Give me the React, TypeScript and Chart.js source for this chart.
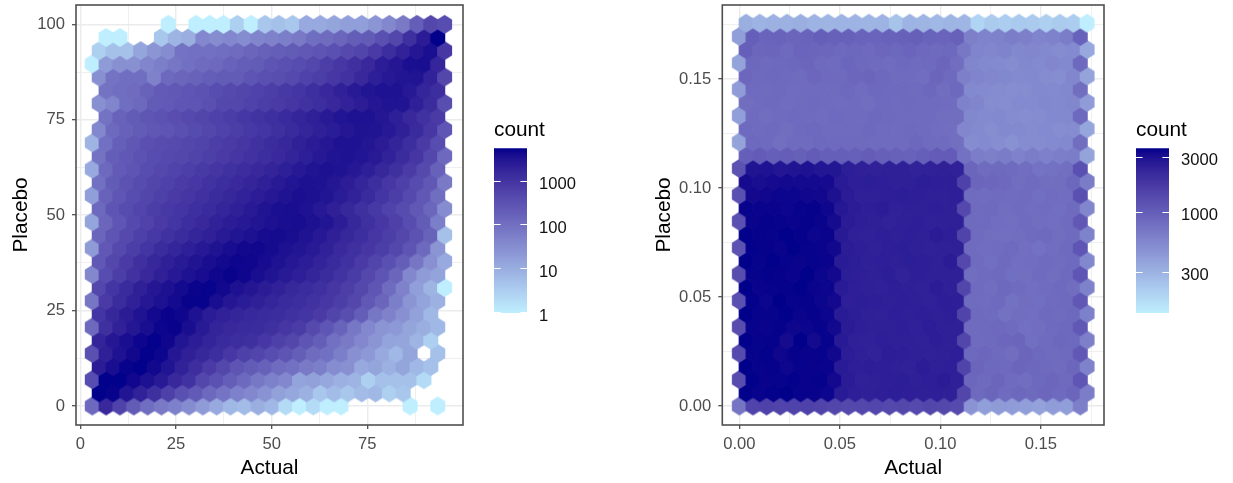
import React, { useEffect, useRef } from "react";
import { Chart, registerables } from "chart.js";
Chart.register(...registerables);

const FONT = "'Liberation Sans', Arial, sans-serif";

// ---- left panel: counts per hexagon row, bottom row first, 0 = empty hexagon
const L00 = [130,1600,600,220,110,70,55,35,20,12,7,6,10,7,2,1,2,1,1,0,0,0,0,1,0,1];
const L01 = [5600,5300,3200,2000,1200,650,350,230,130,85,55,40,28,16,13,9,4,6,4,6,7,3,4,0,0,0];
const L02 = [400,5600,5600,4700,3700,2700,1600,1100,500,330,200,130,75,55,40,15,16,13,9,8,3,5,5,5,2,0];
const L03 = [2500,4000,5300,5600,4600,3300,2000,1300,800,500,300,220,180,120,100,70,60,35,30,12,14,9,14,7,5,0];
const L04 = [350,2200,3500,4600,5500,5000,3000,2200,1700,1300,900,650,550,400,300,200,120,100,60,30,22,12,7,14,0,5];
const L05 = [1900,3000,4000,4900,5500,4800,3200,2400,1900,1500,1300,1200,900,650,500,300,200,100,70,40,25,15,14,8,3,0];
const L06 = [130,1200,2100,3000,4000,5000,5200,4000,2700,1900,1600,1500,1400,1200,950,750,450,280,160,75,40,25,22,14,10,7];
const L07 = [1000,1700,2500,3400,4500,5200,4800,3500,2600,2100,1800,1650,1500,1350,1150,1000,800,550,380,200,80,50,30,16,7,0];
const L08 = [80,800,1400,2100,2900,3600,4400,5200,5300,4000,3000,2600,2200,1800,1500,1300,1100,900,700,500,250,150,60,25,15,9];
const L09 = [500,1000,1500,2200,3000,3700,4400,5100,5300,4600,3600,3100,2500,2100,1700,1450,1200,950,700,480,280,120,50,18,8,1];
const L10 = [40,400,700,1100,1600,2200,2800,3500,4100,4800,5200,4800,4000,3300,2700,2250,1850,1400,1050,750,480,300,150,40,20,15];
const L11 = [250,500,800,1200,1700,2200,2700,3300,3900,4500,4900,4800,4200,3500,2900,2450,1950,1500,1150,800,550,350,200,80,30,12];
const L12 = [20,250,450,700,1000,1400,1800,2300,2800,3400,4100,4600,4700,4300,3700,3200,2700,2100,1550,1200,950,700,500,300,130,25];
const L13 = [150,300,450,650,850,1100,1400,1800,2200,2700,3200,3700,4200,4300,4000,3400,2800,2200,1700,1300,950,700,500,320,170,5];
const L14 = [14,150,280,450,600,800,1000,1300,1600,2000,2400,2800,3200,3700,4000,4100,3700,3200,2400,1700,1200,900,650,400,220,60];
const L15 = [130,300,420,550,700,850,1000,1250,1500,1800,2200,2700,3300,3800,4000,3500,2800,2200,1700,1200,850,600,420,250,140,35];
const L16 = [18,170,280,400,520,650,800,950,1150,1400,1700,2000,2400,2900,3400,3800,3700,3200,2600,2000,1500,1000,700,450,250,110];
const L17 = [100,220,320,420,520,620,750,900,1100,1300,1550,1850,2200,2700,3200,3600,3500,3000,2400,1800,1300,900,650,420,250,70];
const L18 = [12,130,230,300,400,480,570,680,820,980,1150,1350,1600,1900,2300,2800,3300,3600,3400,2900,2300,1700,1200,800,450,180];
const L19 = [90,200,250,320,400,450,500,580,680,800,950,1100,1300,1550,1900,2300,2800,3300,3500,3200,2700,2000,1400,950,500,130];
const L20 = [8,100,190,260,340,390,430,500,580,700,800,950,1150,1400,1700,2100,2500,3000,3500,3500,3100,2500,1900,1300,800,400];
const L21 = [40,130,180,220,260,300,350,420,500,600,700,850,1000,1200,1500,1800,2200,2600,3000,3400,3300,2800,2200,1500,900,280];
const L22 = [0,90,170,220,270,320,370,450,520,620,720,880,1050,1250,1500,1800,2200,2700,3200,3500,3500,3000,2300,1600,1100,800];
const L23 = [30,45,110,130,220,240,280,300,350,480,500,600,700,800,950,1100,1300,1600,2000,2400,3000,3300,3300,2200,1400,380];
const L24 = [0,90,110,120,170,230,250,280,320,400,450,520,600,700,850,1000,1250,1600,2100,2700,3200,3500,3500,2800,1800,1300];
const L25 = [30,90,110,110,50,130,150,170,200,220,220,300,350,380,450,600,700,900,1100,1600,2300,2800,3200,3300,2000,500];
const L26 = [1,20,30,30,45,60,80,100,120,130,170,200,220,300,350,400,500,700,900,1200,1600,2400,3000,3800,4000,1800];
const L27 = [3,5,5,14,25,35,90,100,100,110,120,150,180,200,220,250,300,350,450,550,800,1300,2000,3000,3800,900];
const L28 = [0,1,1,0,0,4,8,10,40,35,40,35,45,50,60,70,110,120,150,200,220,350,500,1200,2500,5600];
const L29 = [0,0,0,0,0,1,0,1,1,1,3,1,4,5,4,12,12,14,18,18,25,40,70,200,500,400];
const leftRows = [L00,L01,L02,L03,L04,L05,L06,L07,L08,L09,L10,L11,L12,L13,L14,L15,L16,L17,L18,L19,L20,L21,L22,L23,L24,L25,L26,L27,L28,L29];

// ---- right panel
const R00 = [720,1500,1550,1500,1520,1560,1500,1450,1400,1420,1440,1400,1420,1380,1450,1430,1350,460,400,420,410,400,380,410,400,620];
const R01 = [3600,3520,3580,3620,3520,3500,3450,2700,2550,2500,2550,2600,2550,2500,2550,2520,1450,850,900,820,870,850,880,840,900,640];
const R02 = [1300,3600,3500,3520,3580,3500,3560,3300,2650,2480,2520,2550,2600,2520,2550,2650,2500,880,850,900,820,800,860,880,850,1150];
const R03 = [3620,3520,3550,3420,3520,3500,3480,2700,2550,2580,2550,2500,2480,2620,2500,2550,1500,900,860,840,900,870,850,830,880,600];
const R04 = [1350,3520,3580,3400,3550,3500,3520,3350,2620,2500,2450,2580,2550,2520,2480,2520,2550,860,880,850,800,900,860,820,850,1100];
const R05 = [3600,3520,3550,3250,3640,3280,3520,2750,2500,2480,2550,2520,2500,2480,2580,2500,1450,830,850,880,900,790,820,870,860,620];
const R06 = [1300,3520,3480,3550,3420,3450,3520,3320,2650,2550,2500,2500,2550,2480,2580,2520,2500,820,850,860,830,770,800,840,860,1100];
const R07 = [3620,3520,3520,3600,3480,3550,3450,2700,2600,2500,2480,2550,2500,2550,2500,2580,1500,850,820,760,800,780,850,830,860,610];
const R08 = [1250,3580,3450,3640,3520,3550,3450,3300,2550,2600,2550,2500,2550,2500,2480,2580,2550,830,810,840,760,800,790,830,850,1100];
const R09 = [3640,3480,3520,3550,3600,3480,3450,2720,2550,2500,2480,2550,2500,2480,2620,2500,1450,830,800,860,820,780,810,840,800,600];
const R10 = [1300,3520,3580,3550,3480,3600,3450,3300,2600,2550,2500,2600,2450,2550,2500,2500,2500,800,820,850,790,780,820,800,840,1150];
const R11 = [3620,3520,3600,3520,3480,3520,3480,2720,2600,2500,2550,2500,2600,2550,2500,2650,1400,820,790,850,780,800,830,810,840,550];
const R12 = [1200,3580,3550,3480,3600,3520,3480,3330,2620,2550,2480,2550,2600,2500,2480,2500,2500,830,800,810,840,780,760,800,840,1150];
const R13 = [3600,3550,3520,3600,3550,3450,3480,2750,2500,2480,2550,2500,2550,2500,2650,2550,1500,830,800,780,800,820,850,800,830,600];
const R14 = [1250,3480,3550,3520,3480,3550,3480,3250,2650,2550,2500,2450,2500,2550,2480,2500,2500,850,840,800,780,830,800,780,820,1100];
const R15 = [3520,3480,3480,3450,3520,3550,3420,2800,2620,2550,2620,2480,2500,2500,2550,2500,1400,830,850,800,820,800,810,790,830,560];
const R16 = [1250,3300,3380,3450,3450,3380,3350,3050,2650,2500,2500,2550,2600,2550,2500,2500,2550,830,810,820,810,820,790,810,800,1250];
const R17 = [3250,3180,3250,3320,3280,3280,3250,2720,2550,2600,2550,2500,2500,2600,2550,2550,1550,900,880,860,800,830,800,800,870,650];
const R18 = [1200,2950,3000,2900,2950,3020,2900,2880,2600,2500,2480,2500,2500,2450,2480,2500,2480,900,830,850,820,800,750,760,780,1250];
const R19 = [1000,1050,1000,1020,980,1050,1000,1000,980,1040,980,960,950,1000,1050,1050,760,640,620,650,600,640,610,630,640,370];
const R20 = [370,860,840,780,820,830,860,840,840,850,830,830,820,870,820,830,780,520,530,500,480,520,520,530,540,800];
const R21 = [840,820,840,800,850,860,820,830,820,860,830,820,850,830,800,780,560,530,510,540,530,520,530,510,520,360];
const R22 = [400,830,800,820,840,830,810,840,830,820,860,850,820,830,830,800,800,550,530,540,520,510,520,540,540,860];
const R23 = [800,830,850,810,820,840,830,810,830,800,840,820,850,830,820,810,600,570,520,510,530,530,550,540,560,410];
const R24 = [410,840,820,850,810,830,820,830,860,810,860,840,850,830,870,800,860,540,530,520,510,520,540,530,550,800];
const R25 = [880,850,860,840,820,880,840,850,880,900,860,830,820,800,900,850,620,580,560,550,530,540,520,510,560,370];
const R26 = [370,870,850,860,870,900,850,830,890,860,830,810,860,830,840,900,800,570,540,530,520,550,530,560,540,860];
const R27 = [1000,880,900,840,920,900,880,860,870,840,880,870,920,860,850,860,700,580,560,590,550,560,540,520,530,350];
const R28 = [400,1000,920,940,900,940,1000,960,960,940,920,950,960,980,930,920,960,620,590,600,640,620,580,600,640,950];
const R29 = [320,300,310,310,320,300,290,300,300,290,300,240,300,290,280,290,285,190,215,210,220,215,205,215,210,133];
const rightRows = [R00,R01,R02,R03,R04,R05,R06,R07,R08,R09,R10,R11,R12,R13,R14,R15,R16,R17,R18,R19,R20,R21,R22,R23,R24,R25,R26,R27,R28,R29];

// ---- axes
const leftXMajor = [0, 25, 50, 75];
const leftXMinor = [12.5, 37.5, 62.5, 87.5];
const leftXLabels = ["0", "25", "50", "75"];
const leftYMajor = [0, 25, 50, 75, 100];
const leftYMinor = [12.5, 37.5, 62.5, 87.5];
const leftYLabels = ["0", "25", "50", "75", "100"];
const rightXMajor = [0, 0.05, 0.1, 0.15];
const rightXMinor = [0.025, 0.075, 0.125, 0.175];
const rightXLabels = ["0.00", "0.05", "0.10", "0.15"];
const rightYMajor = [0, 0.05, 0.1, 0.15];
const rightYMinor = [0.025, 0.075, 0.125, 0.175];
const rightYLabels = ["0.00", "0.05", "0.10", "0.15"];

// ---- legends
const leftLegendTicks = [1, 10, 100, 1000];
const leftLegendLabels = ["1", "10", "100", "1000"];
const leftLegendRange = [1, 5750];
const rightLegendTicks = [300, 1000, 3000];
const rightLegendLabels = ["300", "1000", "3000"];
const rightLegendRange = [133, 3640];

// ---- colour: ggplot2-style gradient, interpolated in CIE Lab
const LOW = [0xbf, 0xef, 0xff];
const HIGH = [0x00, 0x00, 0x8b];
function rgb2lab(c: number[]) {
  const l = c.map((v) => { const s = v / 255; return s <= 0.04045 ? s / 12.92 : Math.pow((s + 0.055) / 1.055, 2.4); });
  const X = (0.4124564 * l[0] + 0.3575761 * l[1] + 0.1804375 * l[2]) / 0.95047;
  const Y = 0.2126729 * l[0] + 0.7151522 * l[1] + 0.072175 * l[2];
  const Z = (0.0193339 * l[0] + 0.119192 * l[1] + 0.9503041 * l[2]) / 1.08883;
  const f = (t: number) => (t > 0.008856 ? Math.cbrt(t) : 7.787 * t + 16 / 116);
  return [116 * f(Y) - 16, 500 * (f(X) - f(Y)), 200 * (f(Y) - f(Z))];
}
function lab2rgb(lab: number[]) {
  const fy = (lab[0] + 16) / 116, fx = fy + lab[1] / 500, fz = fy - lab[2] / 200;
  const g = (t: number) => (t * t * t > 0.008856 ? t * t * t : (t - 16 / 116) / 7.787);
  const X = g(fx) * 0.95047, Y = g(fy), Z = g(fz) * 1.08883;
  const lin = [
    3.2404542 * X - 1.5371385 * Y - 0.4985314 * Z,
    -0.969266 * X + 1.8760108 * Y + 0.041556 * Z,
    0.0556434 * X - 0.2040259 * Y + 1.0572252 * Z,
  ];
  return lin.map((v) => {
    const s = v <= 0.0031308 ? 12.92 * v : 1.055 * Math.pow(Math.max(v, 0), 1 / 2.4) - 0.055;
    return Math.round(Math.min(1, Math.max(0, s)) * 255);
  });
}
const LOW_LAB = rgb2lab(LOW), HIGH_LAB = rgb2lab(HIGH);
function rampColor(t: number) {
  const u = Math.min(1, Math.max(0, t));
  const c = lab2rgb(LOW_LAB.map((v, i) => v + (HIGH_LAB[i] - v) * u));
  return `rgb(${c[0]},${c[1]},${c[2]})`;
}
function countColor(count: number, range: number[]) {
  return rampColor((Math.log10(count) - Math.log10(range[0])) / (Math.log10(range[1]) - Math.log10(range[0])));
}

// hexagon marker as a canvas point style
function hexMarker(color: string, halfW: number, rad: number) {
  const w = Math.ceil(halfW * 2) + 4, h = Math.ceil(rad * 2) + 4;
  const c = document.createElement("canvas");
  c.width = w; c.height = h;
  const g = c.getContext("2d")!;
  const cx = w / 2, cy = h / 2;
  g.fillStyle = color;
  g.beginPath();
  g.moveTo(cx, cy - rad);
  g.lineTo(cx + halfW, cy - rad / 2);
  g.lineTo(cx + halfW, cy + rad / 2);
  g.lineTo(cx, cy + rad);
  g.lineTo(cx - halfW, cy + rad / 2);
  g.lineTo(cx - halfW, cy - rad / 2);
  g.closePath();
  g.fill();
  return c;
}

const panelBorder = {
  id: "panelBorder",
  afterDatasetsDraw(chart: any) {
    const { ctx, chartArea: a } = chart;
    ctx.save();
    ctx.strokeStyle = "#4f4f4f";
    ctx.lineWidth = 1.6;
    ctx.strokeRect(a.left, a.top, a.right - a.left, a.bottom - a.top);
    ctx.restore();
  },
};

function axis(o: any) {
  const all = [...o.major, ...o.minor].sort((a: number, b: number) => a - b);
  const isMajor = (v: number) => o.major.includes(v);
  return {
    type: "linear",
    min: o.min,
    max: o.max,
    position: o.position,
    afterBuildTicks(s: any) { s.ticks = all.map((value: number) => ({ value })); },
    afterFit(s: any) {
      if (o.size.w) s.width = o.size.w;
      if (o.size.h) s.height = o.size.h;
      s.paddingTop = 0; s.paddingBottom = 0; s.paddingLeft = 0; s.paddingRight = 0;
    },
    border: { display: false },
    grid: {
      color: "#ebebeb",
      drawTicks: true,
      tickLength: 4,
      lineWidth: (c: any) => (c.tick && isMajor(c.tick.value) ? 1.4 : 0.8),
      tickColor: (c: any) => (c.tick && isMajor(c.tick.value) ? "#444" : "rgba(0,0,0,0)"),
      tickWidth: 1.2,
    },
    ticks: {
      autoSkip: false,
      maxRotation: 0,
      padding: o.tickPad,
      color: "#4d4d4d",
      font: { family: FONT, size: 16.6 },
      callback: (v: number) => { const i = o.major.indexOf(v); return i >= 0 ? o.labels[i] : ""; },
    },
    title: {
      display: true,
      text: o.title,
      color: "#000",
      font: { family: FONT, size: 20.8 },
      padding: o.titlePad,
    },
  };
}

function panelChart(canvas: HTMLCanvasElement, p: any) {
  const cache: Record<string, HTMLCanvasElement> = {};
  const points: any[] = [];
  p.rows.forEach((row: number[], r: number) => {
    row.forEach((count, k) => {
      if (count > 0) points.push({ x: p.x0 + (k + (r % 2 ? 0.5 : 0)) * p.dx, y: r * p.dy, count });
    });
  });
  return new Chart(canvas, {
    type: "scatter",
    data: {
      datasets: [{
        data: points,
        showLine: false,
        pointRadius: 1,
        pointStyle: (c: any) => {
          const color = countColor(c.raw ? c.raw.count : p.range[0], p.range);
          if (!cache[color]) cache[color] = hexMarker(color, p.halfW, p.rad);
          return cache[color];
        },
      }],
    },
    options: {
      responsive: false,
      animation: false,
      events: [],
      layout: { padding: p.padding },
      plugins: { legend: { display: false }, tooltip: { enabled: false } },
      scales: { x: axis(p.xAxis), y: axis(p.yAxis) },
    },
    plugins: [panelBorder],
  } as any);
}

function legendChart(canvas: HTMLCanvasElement, l: any) {
  return new Chart(canvas, {
    type: "bar",
    data: {
      labels: ["count"],
      datasets: [{
        data: [[l.range[0], l.range[1]]],
        borderWidth: 0,
        barPercentage: 1,
        categoryPercentage: 1,
        backgroundColor: (c: any) => {
          const a = c.chart.chartArea;
          if (!a) return "#000";
          const g = c.chart.ctx.createLinearGradient(0, a.bottom, 0, a.top);
          for (let i = 0; i <= 24; i++) g.addColorStop(i / 24, rampColor(i / 24));
          return g;
        },
      }],
    },
    options: {
      responsive: false,
      animation: false,
      events: [],
      layout: { padding: { bottom: l.bottomPad } },
      plugins: {
        legend: { display: false },
        tooltip: { enabled: false },
        title: {
          display: true,
          text: "count",
          align: "start",
          color: "#000",
          font: { family: FONT, size: 20.8, weight: "normal" },
          padding: { top: 7.5, bottom: 5.8 },
        },
      },
      scales: {
        x: { display: false },
        y: {
          type: "logarithmic",
          position: "right",
          min: l.range[0],
          max: l.range[1],
          afterBuildTicks(s: any) { s.ticks = l.ticks.map((value: number) => ({ value })); },
          afterFit(s: any) { s.width = l.axisW; s.paddingTop = 0; s.paddingBottom = 0; },
          border: { display: false },
          grid: { display: false, drawTicks: false, tickLength: 0 },
          ticks: {
            autoSkip: false,
            padding: 12,
            labelOffset: 3,
            color: "#111",
            font: { family: FONT, size: 16.6 },
            callback: (v: number) => { const i = l.ticks.indexOf(v); return i >= 0 ? l.labels[i] : ""; },
          },
        },
      },
    },
    plugins: [{
      id: "barTicks",
      afterDatasetsDraw(chart: any) {
        const { ctx, chartArea: a, scales } = chart;
        const w = (a.right - a.left) / 5;
        ctx.save();
        ctx.strokeStyle = "#fff";
        ctx.lineWidth = 1;
        l.ticks.forEach((v: number) => {
          const y = Math.round(scales.y.getPixelForValue(v)) - 0.5;
          ctx.beginPath();
          ctx.moveTo(a.left, y); ctx.lineTo(a.left + w, y);
          ctx.moveTo(a.right - w, y); ctx.lineTo(a.right, y);
          ctx.stroke();
        });
        ctx.restore();
      },
    }],
  } as any);
}

const box = (left: number, top: number): React.CSSProperties => ({ position: "absolute", left, top });

export default function App() {
  const a = useRef<HTMLCanvasElement>(null);
  const b = useRef<HTMLCanvasElement>(null);
  const c = useRef<HTMLCanvasElement>(null);
  const d = useRef<HTMLCanvasElement>(null);
  useEffect(() => {
    const charts = [
      panelChart(a.current!, {
        rows: leftRows, x0: 3.14, dx: 3.61, dy: 100 / 29, halfW: 7.5, rad: 9.5, range: leftLegendRange,
        padding: { top: 5, right: 17, left: 0, bottom: 0 },
        xAxis: { min: -1.12, max: 100, major: leftXMajor, minor: leftXMinor, labels: leftXLabels, title: "Actual", position: "bottom", size: { h: 58 }, tickPad: 5, titlePad: { top: 2, bottom: 2.5 } },
        yAxis: { min: -4.98, max: 105.06, major: leftYMajor, minor: leftYMinor, labels: leftYLabels, title: "Placebo", position: "left", size: { w: 76 }, tickPad: 7, titlePad: { top: 9, bottom: 2 } },
      }),
      legendChart(b.current!, { range: leftLegendRange, ticks: leftLegendTicks, labels: leftLegendLabels, axisW: 67, bottomPad: 17 }),
      panelChart(c.current!, {
        rows: rightRows, x0: 0, dx: 0.006786, dy: 0.006055, halfW: 7.42, rad: 9.5, range: rightLegendRange,
        padding: { top: 5, right: 16, left: 0, bottom: 0 },
        xAxis: { min: -0.00846, max: 0.18144, major: rightXMajor, minor: rightXMinor, labels: rightXLabels, title: "Actual", position: "bottom", size: { h: 58 }, tickPad: 5, titlePad: { top: 2, bottom: 2.5 } },
        yAxis: { min: -0.00872, max: 0.18394, major: rightYMajor, minor: rightYMinor, labels: rightYLabels, title: "Placebo", position: "left", size: { w: 82.3 }, tickPad: 7, titlePad: { top: 11.5, bottom: 2 } },
      }),
      legendChart(d.current!, { range: rightLegendRange, ticks: rightLegendTicks, labels: rightLegendLabels, axisW: 63, bottomPad: 17 }),
    ];
    return () => charts.forEach((ch) => ch.destroy());
  }, []);
  return (
    <div style={{ position: "absolute", left: 0, top: 0, width: 1233, height: 483, background: "#fff", overflow: "hidden" }}>
      <canvas ref={a} width={480} height={483} style={box(0, 0)} />
      <canvas ref={b} width={100} height={220} style={box(494, 110)} />
      <canvas ref={c} width={480} height={483} style={box(640, 0)} />
      <canvas ref={d} width={96} height={220} style={box(1136, 110)} />
    </div>
  );
}
